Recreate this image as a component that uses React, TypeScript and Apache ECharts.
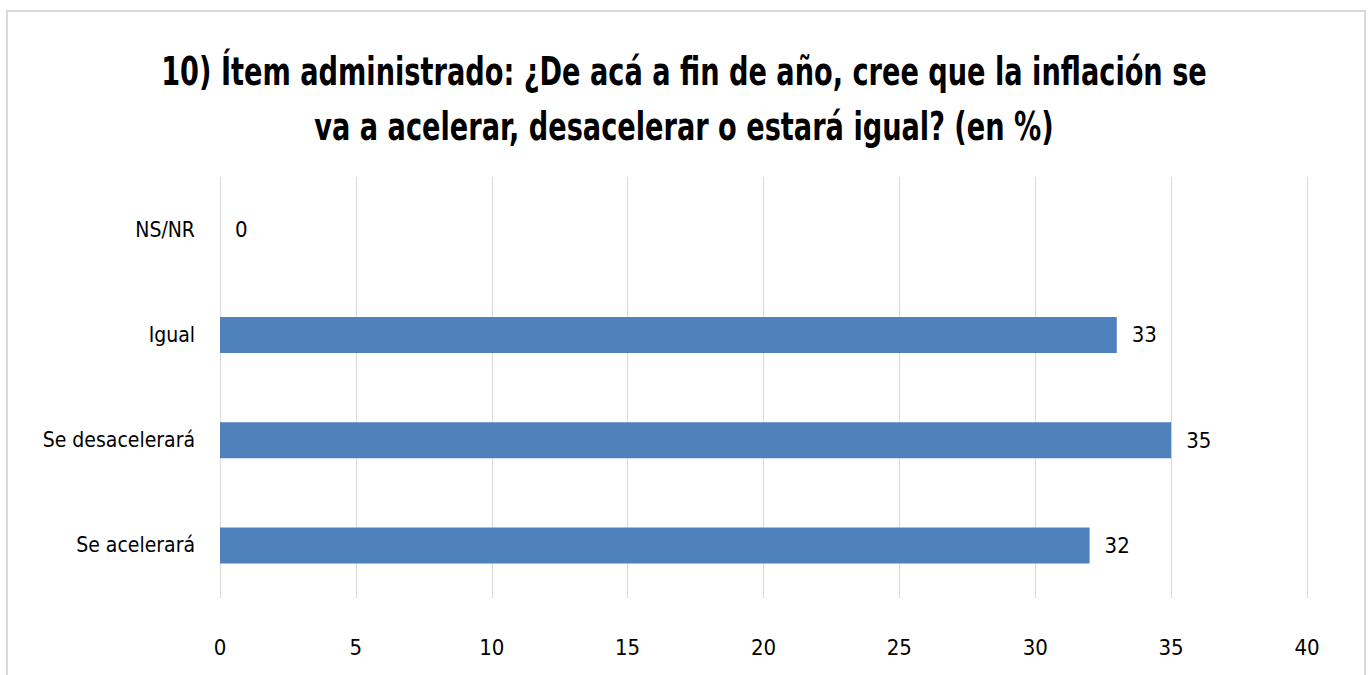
import React, { useEffect, useRef } from "react";
import * as echarts from "echarts";

const categories = ["Se acelerará", "Se desacelerará", "Igual", "NS/NR"];
const values = [32, 35, 33, 0];
const titleLines = [
  "10) Ítem administrado: ¿De acá a fin de año, cree que la inflación se",
  "va a acelerar, desacelerar o estará igual? (en %)",
];

const FONT = "'Liberation Sans Narrow', 'DejaVu Sans Condensed', 'Noto Sans', sans-serif";

export default function App() {
  const ref = useRef<HTMLDivElement>(null);
  useEffect(() => {
    document.body.style.margin = "0";
    const chart = echarts.init(ref.current!, null, { renderer: "svg" });
    chart.setOption({
      animation: false,
      backgroundColor: "#ffffff",
      graphic: [
        {
          type: "rect",
          shape: { x: 7, y: 11, width: 1358, height: 700 },
          style: { fill: "none", stroke: "#d9d9d9", lineWidth: 2 },
        },
        ...titleLines.map((t, i) => ({
          type: "text",
          x: 684,
          y: 72 + i * 55,
          scaleX: 0.775,
          style: {
            text: t,
            textAlign: "center",
            textVerticalAlign: "middle",
            fontFamily: FONT,
            fontWeight: "bold",
            fontSize: 39,
            fill: "#000000",
          },
        })),
      ],
      grid: { left: 220, right: 64, top: 177, bottom: 77 },
      xAxis: {
        type: "value",
        min: 0,
        max: 40,
        interval: 5,
        axisLine: { show: false },
        axisTick: { show: false },
        splitLine: { show: true, lineStyle: { color: "#d9d9d9", width: 1 } },
        axisLabel: {
          margin: 38,
          fontFamily: FONT,
          fontSize: 22,
          color: "#000000",
        },
      },
      yAxis: {
        type: "category",
        data: categories,
        axisLine: { show: false },
        axisTick: { show: false },
        axisLabel: {
          margin: 25,
          fontFamily: FONT,
          fontSize: 21,
          color: "#000000",
        },
      },
      series: [
        {
          type: "bar",
          data: values,
          barWidth: 36,
          itemStyle: { color: "#4f81bd" },
          label: {
            show: true,
            position: "right",
            distance: 15,
            fontFamily: FONT,
            fontSize: 22,
            color: "#000000",
          },
        },
      ],
    });
    return () => chart.dispose();
  }, []);
  return <div ref={ref} style={{ width: 1371, height: 675 }} />;
}
